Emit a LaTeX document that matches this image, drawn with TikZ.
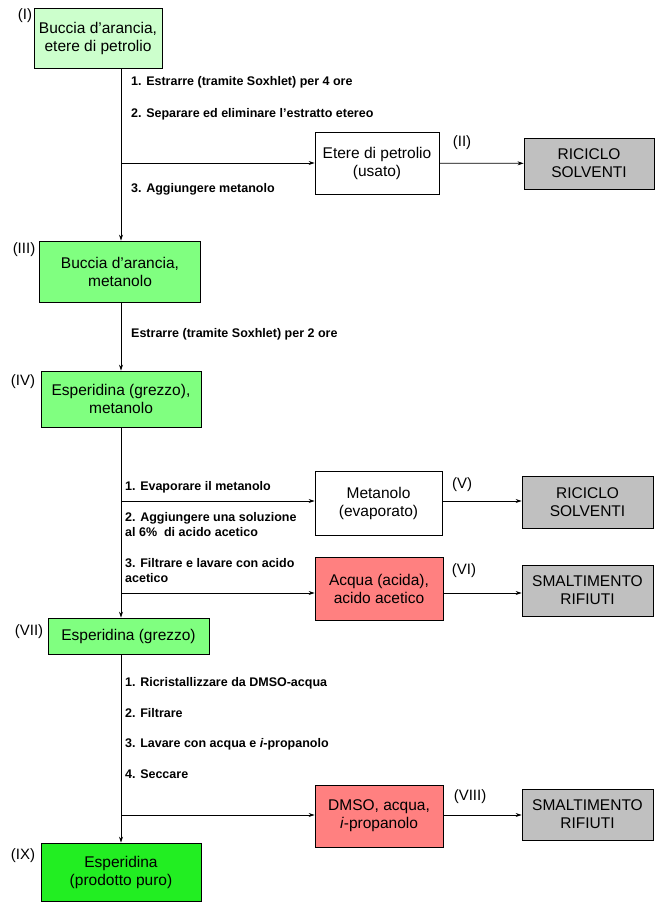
\documentclass[tikz,border=0pt]{standalone}
\usepackage{fontspec}
\setmainfont{Liberation Sans}
\usetikzlibrary{arrows.meta}
\definecolor{lg}{HTML}{CCFFCC}
\definecolor{mg}{HTML}{80FF80}
\definecolor{bg}{HTML}{22EE22}
\definecolor{rd}{HTML}{FF8080}
\definecolor{gy}{HTML}{C0C0C0}
\begin{document}
\begin{tikzpicture}[x=1pt,y=-1pt,
 box/.style={draw,line width=0.8pt,align=center,font=\fontsize{15.5}{18}\selectfont,inner sep=0pt},
 stp/.style={anchor=west,align=left,font=\bfseries\fontsize{12.5}{15}\selectfont,inner sep=0pt},
 lab/.style={font=\fontsize{15}{17}\selectfont,inner sep=0pt},
 arr/.style={line width=0.8pt,-{Stealth[length=6pt,width=4pt]}}]
\useasboundingbox (0,0) rectangle (660,910);
% boxes
\node[box,fill=lg,minimum width=128,minimum height=60] (b1) at (98,38) {Buccia d'arancia,\\etere di petrolio};
\node[box,fill=white,minimum width=124,minimum height=62] (b2) at (377,163) {Etere di petrolio\\(usato)};
\node[box,fill=gy,minimum width=130,minimum height=51] (r1) at (589,163.5) {RICICLO\\SOLVENTI};
\node[box,fill=mg,minimum width=161,minimum height=61] (b3) at (120,271.5) {Buccia d'arancia,\\metanolo};
\node[box,fill=mg,minimum width=160,minimum height=56] (b4) at (121,399) {Esperidina (grezzo),\\metanolo};
\node[box,fill=white,minimum width=127,minimum height=64] (b5) at (378.5,503) {Metanolo\\(evaporato)};
\node[box,fill=gy,minimum width=131,minimum height=52] (r2) at (587.5,502) {RICICLO\\SOLVENTI};
\node[box,fill=rd,minimum width=128,minimum height=63] (b6) at (379,588.5) {Acqua (acida),\\acido acetico};
\node[box,fill=gy,minimum width=131,minimum height=51] (r3) at (587.5,590.5) {SMALTIMENTO\\RIFIUTI};
\node[box,fill=mg,minimum width=161,minimum height=36] (b7) at (128.5,636) {Esperidina (grezzo)};
\node[box,fill=rd,minimum width=128,minimum height=62] (b8) at (379,816) {DMSO, acqua,\\\textit{i}-propanolo};
\node[box,fill=gy,minimum width=131,minimum height=51] (r4) at (587.5,814.5) {SMALTIMENTO\\RIFIUTI};
\node[box,fill=bg,minimum width=160,minimum height=58] (b9) at (121,872) {Esperidina\\(prodotto puro)};
% labels
\node[lab] (l1) at (25,16) {(I)};
\node[lab] (l2) at (462,143) {(II)};
\node[lab] (l3) at (24,250) {(III)};
\node[lab] (l4) at (23,382) {(IV)};
\node[lab] (l5) at (462,485) {(V)};
\node[lab] (l6) at (464,571) {(VI)};
\node[lab] (l7) at (29,632) {(VII)};
\node[lab] (l8) at (470,797) {(VIII)};
\node[lab] (l9) at (23,856) {(IX)};
% steps
\node[stp] (s1) at (131,82) {1. Estrarre (tramite Soxhlet) per 4 ore};
\node[stp] (s2) at (131,114) {2. Separare ed eliminare l'estratto etereo};
\node[stp] (s3) at (131,189) {3. Aggiungere metanolo};
\node[stp] (s4) at (131,334) {Estrarre (tramite Soxhlet) per 2 ore};
\node[stp] (s5) at (125,487) {1. Evaporare il metanolo};
\node[stp] (s6) at (125,525) {2. Aggiungere una soluzione\\al 6\%\ \ di acido acetico};
\node[stp] (s7) at (125,571) {3. Filtrare e lavare con acido\\acetico};
\node[stp] (s8) at (125,683) {1. Ricristallizzare da DMSO-acqua};
\node[stp] (s9) at (125,713) {2. Filtrare};
\node[stp] (s10) at (125,744) {3. Lavare con acqua e \textit{i}-propanolo};
\node[stp] (s11) at (125,774) {4. Seccare};
% connectors
\coordinate (j1) at (121,163);
\coordinate (j2) at (121,501);
\coordinate (j3) at (121,593);
\coordinate (j4) at (121,815);
\draw[arr] (b1.south -| j1) -- (b3.north -| j1);
\draw[arr] (j1) -- (j1 -| b2.west);
\draw[arr] (b2) -- (r1);
\draw[arr] (b3.south -| j1) -- (b4.north -| j1);
\draw[arr] (b4.south -| j1) -- (b7.north -| j1);
\draw[arr] (j2) -- (j2 -| b5.west);
\draw[arr] (j2 -| b5.east) -- (j2 -| r2.west);
\draw[arr] (j3) -- (j3 -| b6.west);
\draw[arr] (j3 -| b6.east) -- (j3 -| r3.west);
\draw[arr] (b7.south -| j1) -- (b9.north -| j1);
\draw[arr] (j4) -- (j4 -| b8.west);
\draw[arr] (j4 -| b8.east) -- (j4 -| r4.west);
\end{tikzpicture}
\end{document}
